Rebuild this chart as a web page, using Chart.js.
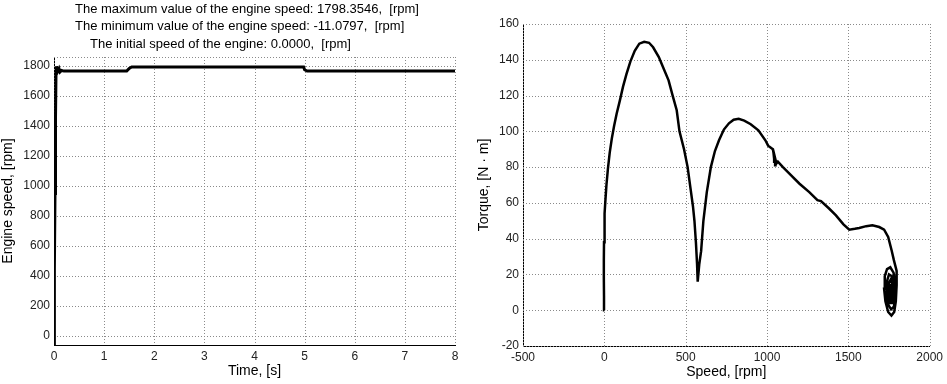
<!DOCTYPE html>
<html>
<head>
<meta charset="utf-8">
<script src="https://cdn.jsdelivr.net/npm/chart.js@4/dist/chart.umd.min.js"></script>
<style>
body { margin: 0; background: #fff; }
#wrap { position: relative; width: 947px; height: 384px; }
#c1 { position: absolute; left: 0; top: 0; }
#c2 { position: absolute; left: 470px; top: 0; }
</style>
</head>
<body>
<div id="wrap">
  <canvas id="c1" width="470" height="384"></canvas>
  <canvas id="c2" width="477" height="384"></canvas>
</div>
<script>
// header text of the left plot
const headerLines = [
  "The maximum value of the engine speed: 1798.3546,  [rpm]",
  "The minimum value of the engine speed: -11.0797,  [rpm]",
  "The initial speed of the engine: 0.0000,  [rpm]"
];

// engine speed vs time
const timeS = [0, 0.005, 0.01, 0.02, 0.03, 0.04, 0.05, 0.06, 0.07, 0.08, 0.1, 0.12, 0.15, 0.2, 1.45, 1.5, 1.55, 4.98, 5.0, 5.05, 8];
const engineRpm = [0, -11, 450, 950, 1450, 1760, 1798, 1770, 1792, 1768, 1782, 1760, 1770, 1766, 1766, 1784, 1793, 1793, 1775, 1766, 1766];

// torque vs speed
const speedRpm = [0, -2, -3, -3, -2, 0, 3, 7, 13, 22, 33, 46, 60, 76, 95, 115, 136, 160, 187, 215, 245, 275, 300, 335, 365, 395, 420, 445, 462, 490, 512, 530, 545, 554, 563, 570, 574,
  584, 595, 609, 630, 655, 680, 705, 735, 766, 795, 826, 860, 900, 947, 990, 1007, 1036, 1040, 1046, 1044, 1052, 1050, 1058, 1067, 1098, 1147, 1200, 1260, 1310, 1332, 1380, 1424, 1470, 1506, 1540, 1567, 1610, 1648, 1690, 1720, 1745, 1766, 1780, 1797,
  1797, 1792, 1782, 1765, 1745, 1728, 1720, 1724, 1738, 1758, 1778, 1790, 1790, 1780, 1763, 1746, 1735, 1737, 1750, 1768, 1780, 1780, 1770, 1756, 1746, 1748, 1760, 1772, 1772, 1763, 1754, 1756, 1765, 1768, 1761, 1758, 1763];
const torqueNm = [0, 8, 18, 28, 38, 46, 54, 62, 70, 79, 88, 96, 103, 110, 117, 125, 132, 139, 145, 149, 150, 149.5, 147, 141.5, 135, 128.5, 120, 111.8, 100, 90, 80, 68, 58, 50, 38, 26, 16,
  26, 33, 50, 66, 80, 89, 95, 101, 104.5, 106.5, 107, 106, 104, 100.6, 95, 92, 90, 88, 83, 87, 81, 85, 82, 83, 80, 75.5, 70.7, 66, 61.5, 61, 57, 53, 48, 45, 45.5, 46, 47, 47.5, 46.5, 45, 41, 33.5, 28, 22,
  14, 5, -1, -3, -1, 5, 12, 19, 23, 24, 21, 15, 7, 2, 0.5, 3, 9, 16, 20, 19, 14, 8, 4, 4, 9, 15, 17, 14, 9, 6, 9, 14, 14, 10, 8, 11, 12];

const FONT = "'Liberation Sans', Arial, sans-serif";
const GRID = '#8a8a8a';

const header = {
  id: 'header',
  afterDraw(chart) {
    const ctx = chart.ctx;
    ctx.save();
    ctx.font = '13px ' + FONT;
    ctx.fillStyle = '#000';
    ctx.textBaseline = 'middle';
    ctx.textAlign = 'left';
    ctx.fillText(headerLines[0], 75, 9);
    ctx.fillText(headerLines[1], 75, 26);
    ctx.fillText(headerLines[2], 90, 44);
    ctx.restore();
  }
};

// dotted grid lines (matlab "grid on") drawn by hand, plus the top edge
const dottedGrid = {
  id: 'dottedGrid',
  beforeDatasetsDraw(chart) {
    const area = chart.chartArea;
    const sx = chart.scales.x, sy = chart.scales.y;
    const t = Math.round(area.top), b = Math.round(area.bottom);
    const l = Math.round(area.left), r = Math.round(area.right);
    const ctx = chart.ctx;
    ctx.save();
    ctx.strokeStyle = GRID;
    ctx.lineWidth = 1;
    ctx.setLineDash([1, 2]);
    sx.ticks.forEach(tk => {
      const px = Math.round(sx.getPixelForValue(tk.value)) + 0.5;
      ctx.beginPath(); ctx.moveTo(px, t); ctx.lineTo(px, b); ctx.stroke();
    });
    sy.ticks.forEach(tk => {
      const py = Math.round(sy.getPixelForValue(tk.value)) + 0.5;
      ctx.beginPath(); ctx.moveTo(l, py); ctx.lineTo(r, py); ctx.stroke();
    });
    ctx.beginPath(); ctx.moveTo(l, t + 0.5); ctx.lineTo(r, t + 0.5); ctx.stroke();
    ctx.restore();
  }
};

// y tick labels, written from the y scale's own ticks
const yLabels = {
  id: 'yLabels',
  afterDraw(chart) {
    const sy = chart.scales.y;
    const ctx = chart.ctx;
    ctx.save();
    ctx.font = '12px ' + FONT;
    ctx.fillStyle = '#222';
    ctx.textAlign = 'right';
    ctx.textBaseline = 'middle';
    sy.ticks.forEach(tk => {
      ctx.fillText(String(tk.value), chart.chartArea.left - 4, sy.getPixelForValue(tk.value));
    });
    ctx.restore();
  }
};

function axis(min, max, step, title, size, titlePad, showTicks) {
  return {
    type: 'linear',
    min: min,
    max: max,
    ticks: {display: showTicks, stepSize: step, includeBounds: false, autoSkip: false, color: '#222', padding: 4,
      font: {size: 12, family: FONT}, callback: (v) => String(v)},
    grid: {display: false, drawTicks: false},
    border: {display: true, color: '#000', width: 1},
    title: {display: true, text: title, color: '#000', font: {size: 14, family: FONT}, padding: titlePad},
    afterFit(scale) {
      if (scale.isHorizontal()) scale.height = size; else scale.width = size;
    }
  };
}

function pts(xs, ys) {
  return xs.map((x, i) => ({x: x, y: ys[i]}));
}

const config1 = {
  type: 'line',
  data: {datasets: [{data: pts(timeS, engineRpm), borderColor: '#000', borderWidth: 3, pointRadius: 0, tension: 0}]},
  options: {
    responsive: false,
    animation: false,
    layout: {padding: {left: 0, right: 15, top: 57, bottom: 0}},
    plugins: {legend: {display: false}, tooltip: {enabled: false}},
    scales: {
      x: axis(0, 8, 1, 'Time, [s]', 39, {top: 0, bottom: 4}, true),
      y: axis(-60, 1860, 200, 'Engine speed, [rpm]', 54, {top: 0, bottom: 0}, false)
    }
  },
  plugins: [header, dottedGrid, yLabels]
};

const config2 = {
  type: 'line',
  data: {datasets: [{data: pts(speedRpm, torqueNm), borderColor: '#000', borderWidth: 2.5, pointRadius: 0, tension: 0}]},
  options: {
    responsive: false,
    animation: false,
    layout: {padding: {left: 0, right: 15, top: 24, bottom: 0}},
    plugins: {legend: {display: false}, tooltip: {enabled: false}},
    scales: {
      x: axis(-500, 2000, 500, 'Speed, [rpm]', 38, {top: 0, bottom: 3}, true),
      y: axis(-20, 160, 20, 'Torque, [N · m]', 53, {top: 6, bottom: 0}, false)
    }
  },
  plugins: [dottedGrid, yLabels]
};

const speedChart = new Chart(document.getElementById('c1'), config1);
const torqueChart = new Chart(document.getElementById('c2'), config2);
</script>
</body>
</html>
